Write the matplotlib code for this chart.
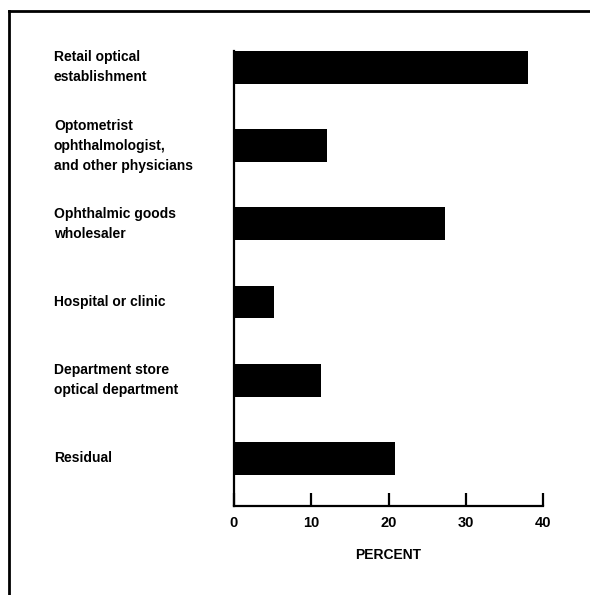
import matplotlib
matplotlib.use("Agg")
import matplotlib.pyplot as plt
from matplotlib.lines import Line2D
from matplotlib.transforms import blended_transform_factory

plt.rcParams['font.family'] = ['Liberation Sans', 'DejaVu Sans']

# data
categories = [
    "Retail optical\nestablishment",
    "Optometrist\nophthalmologist,\nand other physicians",
    "Ophthalmic goods\nwholesaler",
    "Hospital or clinic",
    "Department store\noptical department",
    "Residual",
]
percent = [38.1, 12.0, 27.3, 5.2, 11.2, 20.9]
xticks = [0, 10, 20, 30, 40]

fig = plt.figure(figsize=(5.9, 5.95), dpi=100)
ax = fig.add_axes([234 / 590, 1 - 506 / 595, (543 - 234) / 590, (506 - 51) / 595])

pos = list(range(len(categories)))
ax.barh(pos, percent, height=0.42, color='black')

ax.set_xlim(0, 40)
ax.set_ylim(5.61, -0.21)
ax.set_xticks(xticks)
ax.set_xticklabels([str(t) for t in xticks], fontsize=10.5, fontweight='bold')
ax.tick_params(axis='x', direction='in', length=9.5, width=1.6, pad=7)
ax.set_yticks([])
for side in ['top', 'right']:
    ax.spines[side].set_visible(False)
for side in ['left', 'bottom']:
    ax.spines[side].set_linewidth(1.6)
ax.set_xlabel("PERCENT", fontsize=10, fontweight='bold', labelpad=13)

# category labels, left aligned in the margin
trans = blended_transform_factory(fig.transFigure, ax.transData)
for p, lab in zip(pos, categories):
    ax.text(54 / 590, p, lab, transform=trans,
            ha='left', va='center', fontsize=10, fontweight='bold', linespacing=1.55)

# frame lines of the scanned page (top and left)
fig.add_artist(Line2D([9 / 590, 1], [1 - 11 / 595, 1 - 11 / 595], transform=fig.transFigure,
                      color='black', lw=2))
fig.add_artist(Line2D([9 / 590, 9 / 590], [1 - 11 / 595, 0], transform=fig.transFigure,
                      color='black', lw=2))

fig.savefig("out.png", dpi=100)
